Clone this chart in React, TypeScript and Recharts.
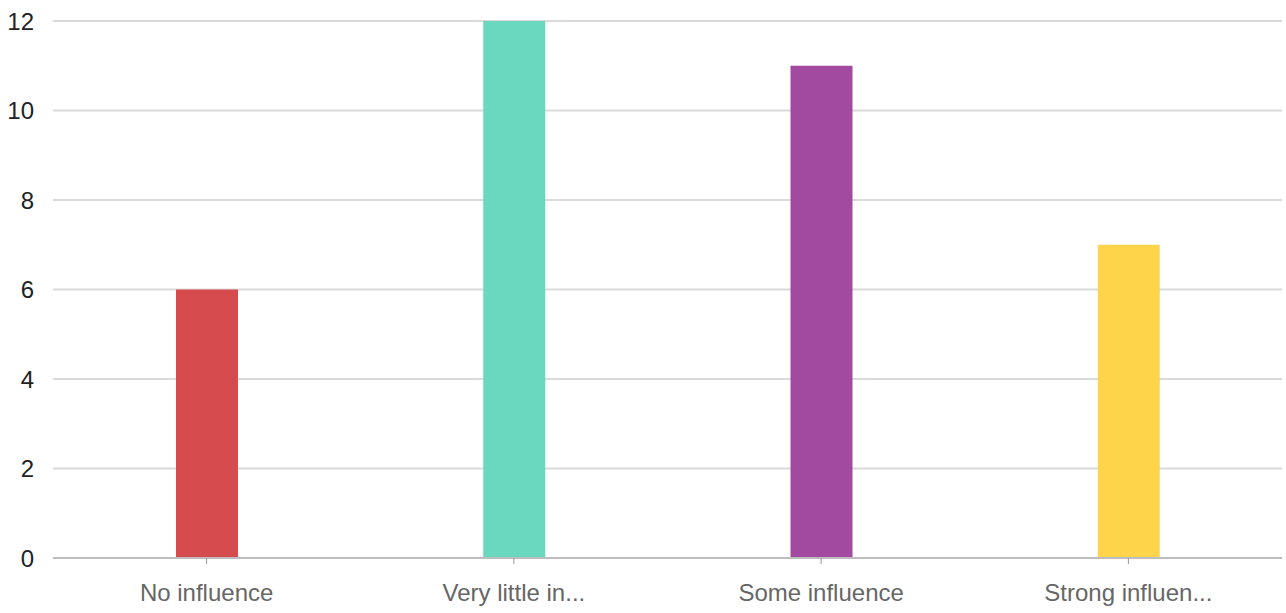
import { BarChart, Bar, XAxis, YAxis, CartesianGrid, Cell } from 'recharts'

const categories = ['No influence', 'Very little in...', 'Some influence', 'Strong influen...']
const counts = [6, 12, 11, 7]
const barColors = ['#d64b4e', '#6ad8be', '#a24a9f', '#fed54a']
const yTicks = [0, 2, 4, 6, 8, 10, 12]

const chartData = categories.map((name, i) => ({ name, count: counts[i] }))

const FONT = 'Liberation Sans, Arial, sans-serif'

export default function App() {
  return (
    <div style={{ position: 'absolute', left: 0, top: 0, background: '#fff' }}>
      <BarChart
        width={1286}
        height={613}
        data={chartData}
        margin={{ top: 21, right: 4, bottom: 0, left: 0 }}
      >
        <CartesianGrid vertical={false} stroke="#dadada" strokeWidth={2} />
        <XAxis
          dataKey="name"
          height={55}
          axisLine={{ stroke: '#bdbdbd', strokeWidth: 2 }}
          tickLine={{ stroke: '#999' }}
          tickSize={6}
          tickMargin={20}
          interval={0}
          tick={{ fontSize: 24, fill: '#666', fontFamily: FONT }}
        />
        <YAxis
          width={53}
          domain={[0, 12]}
          ticks={yTicks}
          axisLine={false}
          tickLine={false}
          tickSize={0}
          tickMargin={19}
          tick={{ fontSize: 24, fill: '#222', fontFamily: FONT }}
        />
        <Bar dataKey="count" barSize={62} isAnimationActive={false}>
          {chartData.map((d, i) => (
            <Cell key={d.name} fill={barColors[i]} />
          ))}
        </Bar>
      </BarChart>
    </div>
  )
}
